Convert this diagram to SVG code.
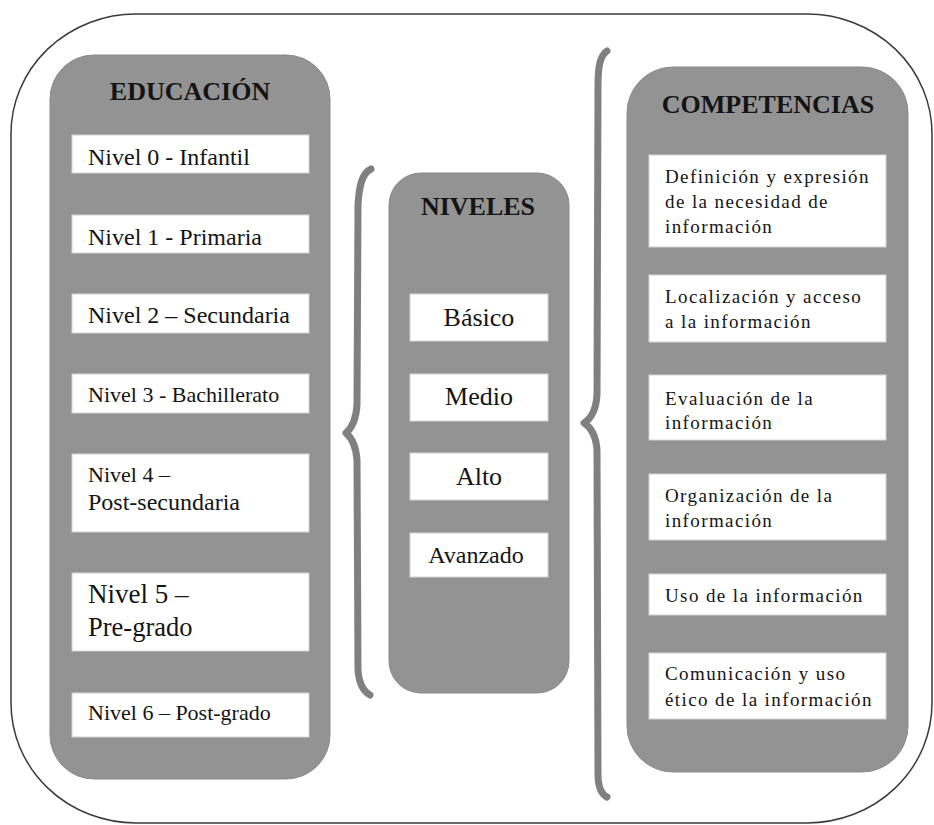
<svg xmlns="http://www.w3.org/2000/svg" width="934" height="825" viewBox="0 0 934 825">
<style>
.panel{fill:#939393;stroke:#8a8a8a;stroke-width:1}
.box{fill:#ffffff;stroke:#d4d4d4;stroke-width:1}
.t{font-family:"Liberation Serif","Times New Roman",serif;fill:#141414}
.h{font-family:"Liberation Serif","Times New Roman",serif;font-weight:bold;font-size:26px;fill:#141414;text-anchor:middle}
.c{font-size:19px;letter-spacing:1.4px}
.brace{fill:none;stroke:#808080;stroke-width:7;stroke-linecap:round;stroke-linejoin:round}
</style>
<rect width="934" height="825" fill="#ffffff"/>
<rect x="11" y="14" width="921" height="809" rx="125" ry="120" fill="none" stroke="#3a3a3a" stroke-width="1.5"/>

<g id="educacion">
<rect class="panel" x="50" y="55" width="280" height="724" rx="44"/>
<text class="h" x="190" y="100">EDUCACIÓN</text>
<g id="nivel0"><rect class="box" x="72" y="135" width="237" height="38"/><text class="t" x="88" y="165" font-size="24">Nivel 0 - Infantil</text></g>
<g id="nivel1"><rect class="box" x="72" y="215" width="237" height="38"/><text class="t" x="88" y="245" font-size="24">Nivel 1 - Primaria</text></g>
<g id="nivel2"><rect class="box" x="72" y="294" width="237" height="39"/><text class="t" x="88" y="323" font-size="24">Nivel 2 – Secundaria</text></g>
<g id="nivel3"><rect class="box" x="72" y="374" width="237" height="39"/><text class="t" x="88" y="402" font-size="22">Nivel 3 - Bachillerato</text></g>
<g id="nivel4"><rect class="box" x="72" y="454" width="237" height="78"/><text class="t" x="88" y="482" font-size="22">Nivel 4 –</text><text class="t" x="88" y="510" font-size="24">Post-secundaria</text></g>
<g id="nivel5"><rect class="box" x="72" y="573" width="237" height="78"/><text class="t" x="88" y="603" font-size="27">Nivel 5 –</text><text class="t" x="88" y="636" font-size="26.5">Pre-grado</text></g>
<g id="nivel6"><rect class="box" x="72" y="693" width="237" height="44"/><text class="t" x="88" y="720" font-size="22">Nivel 6 – Post-grado</text></g>
</g>

<g id="niveles">
<rect class="panel" x="389" y="173" width="180" height="520" rx="32"/>
<text class="h" x="478" y="215">NIVELES</text>
<g id="basico"><rect class="box" x="410" y="294" width="138" height="47"/><text class="t" x="479" y="326" font-size="26" text-anchor="middle">Básico</text></g>
<g id="medio"><rect class="box" x="410" y="374" width="138" height="47"/><text class="t" x="479" y="405" font-size="26" text-anchor="middle">Medio</text></g>
<g id="alto"><rect class="box" x="410" y="453" width="138" height="47"/><text class="t" x="479" y="485" font-size="26" text-anchor="middle">Alto</text></g>
<g id="avanzado"><rect class="box" x="410" y="533" width="138" height="44"/><text class="t" x="476" y="563" font-size="24" text-anchor="middle">Avanzado</text></g>
</g>

<g id="competencias">
<rect class="panel" x="627" y="67" width="281" height="705" rx="46"/>
<text class="h" x="768" y="113">COMPETENCIAS</text>
<g id="comp1"><rect class="box" x="649" y="155" width="237" height="92"/><text class="t c" x="665" y="183">Definición y expresión</text><text class="t c" x="665" y="208">de la necesidad de</text><text class="t c" x="665" y="233">información</text></g>
<g id="comp2"><rect class="box" x="649" y="275" width="237" height="67"/><text class="t c" x="665" y="303">Localización y acceso</text><text class="t c" x="665" y="328">a la información</text></g>
<g id="comp3"><rect class="box" x="649" y="375" width="237" height="65"/><text class="t c" x="665" y="405">Evaluación de la</text><text class="t c" x="665" y="429">información</text></g>
<g id="comp4"><rect class="box" x="649" y="474" width="237" height="66"/><text class="t c" x="665" y="502">Organización de la</text><text class="t c" x="665" y="527">información</text></g>
<g id="comp5"><rect class="box" x="649" y="574" width="237" height="41"/><text class="t c" x="665" y="602">Uso de la información</text></g>
<g id="comp6"><rect class="box" x="649" y="653" width="237" height="66"/><text class="t c" x="665" y="680">Comunicación y uso</text><text class="t c" x="665" y="706">ético de la información</text></g>
</g>

<g id="connectors">
<path class="brace" d="M 371 169 C 362 173, 359 186, 358 205 L 357 405 C 356 420, 352 428, 346 433 C 352 438, 356 446, 357 460 L 358 670 C 359 684, 363 691, 370 695"/>
<path class="brace" d="M 607 51 C 600 56, 598 66, 598 86 L 597 395 C 596 410, 592 418, 584 423 C 592 428, 596 436, 597 450 L 598 774 C 598 787, 601 794, 607 797"/>
</g>
</svg>
